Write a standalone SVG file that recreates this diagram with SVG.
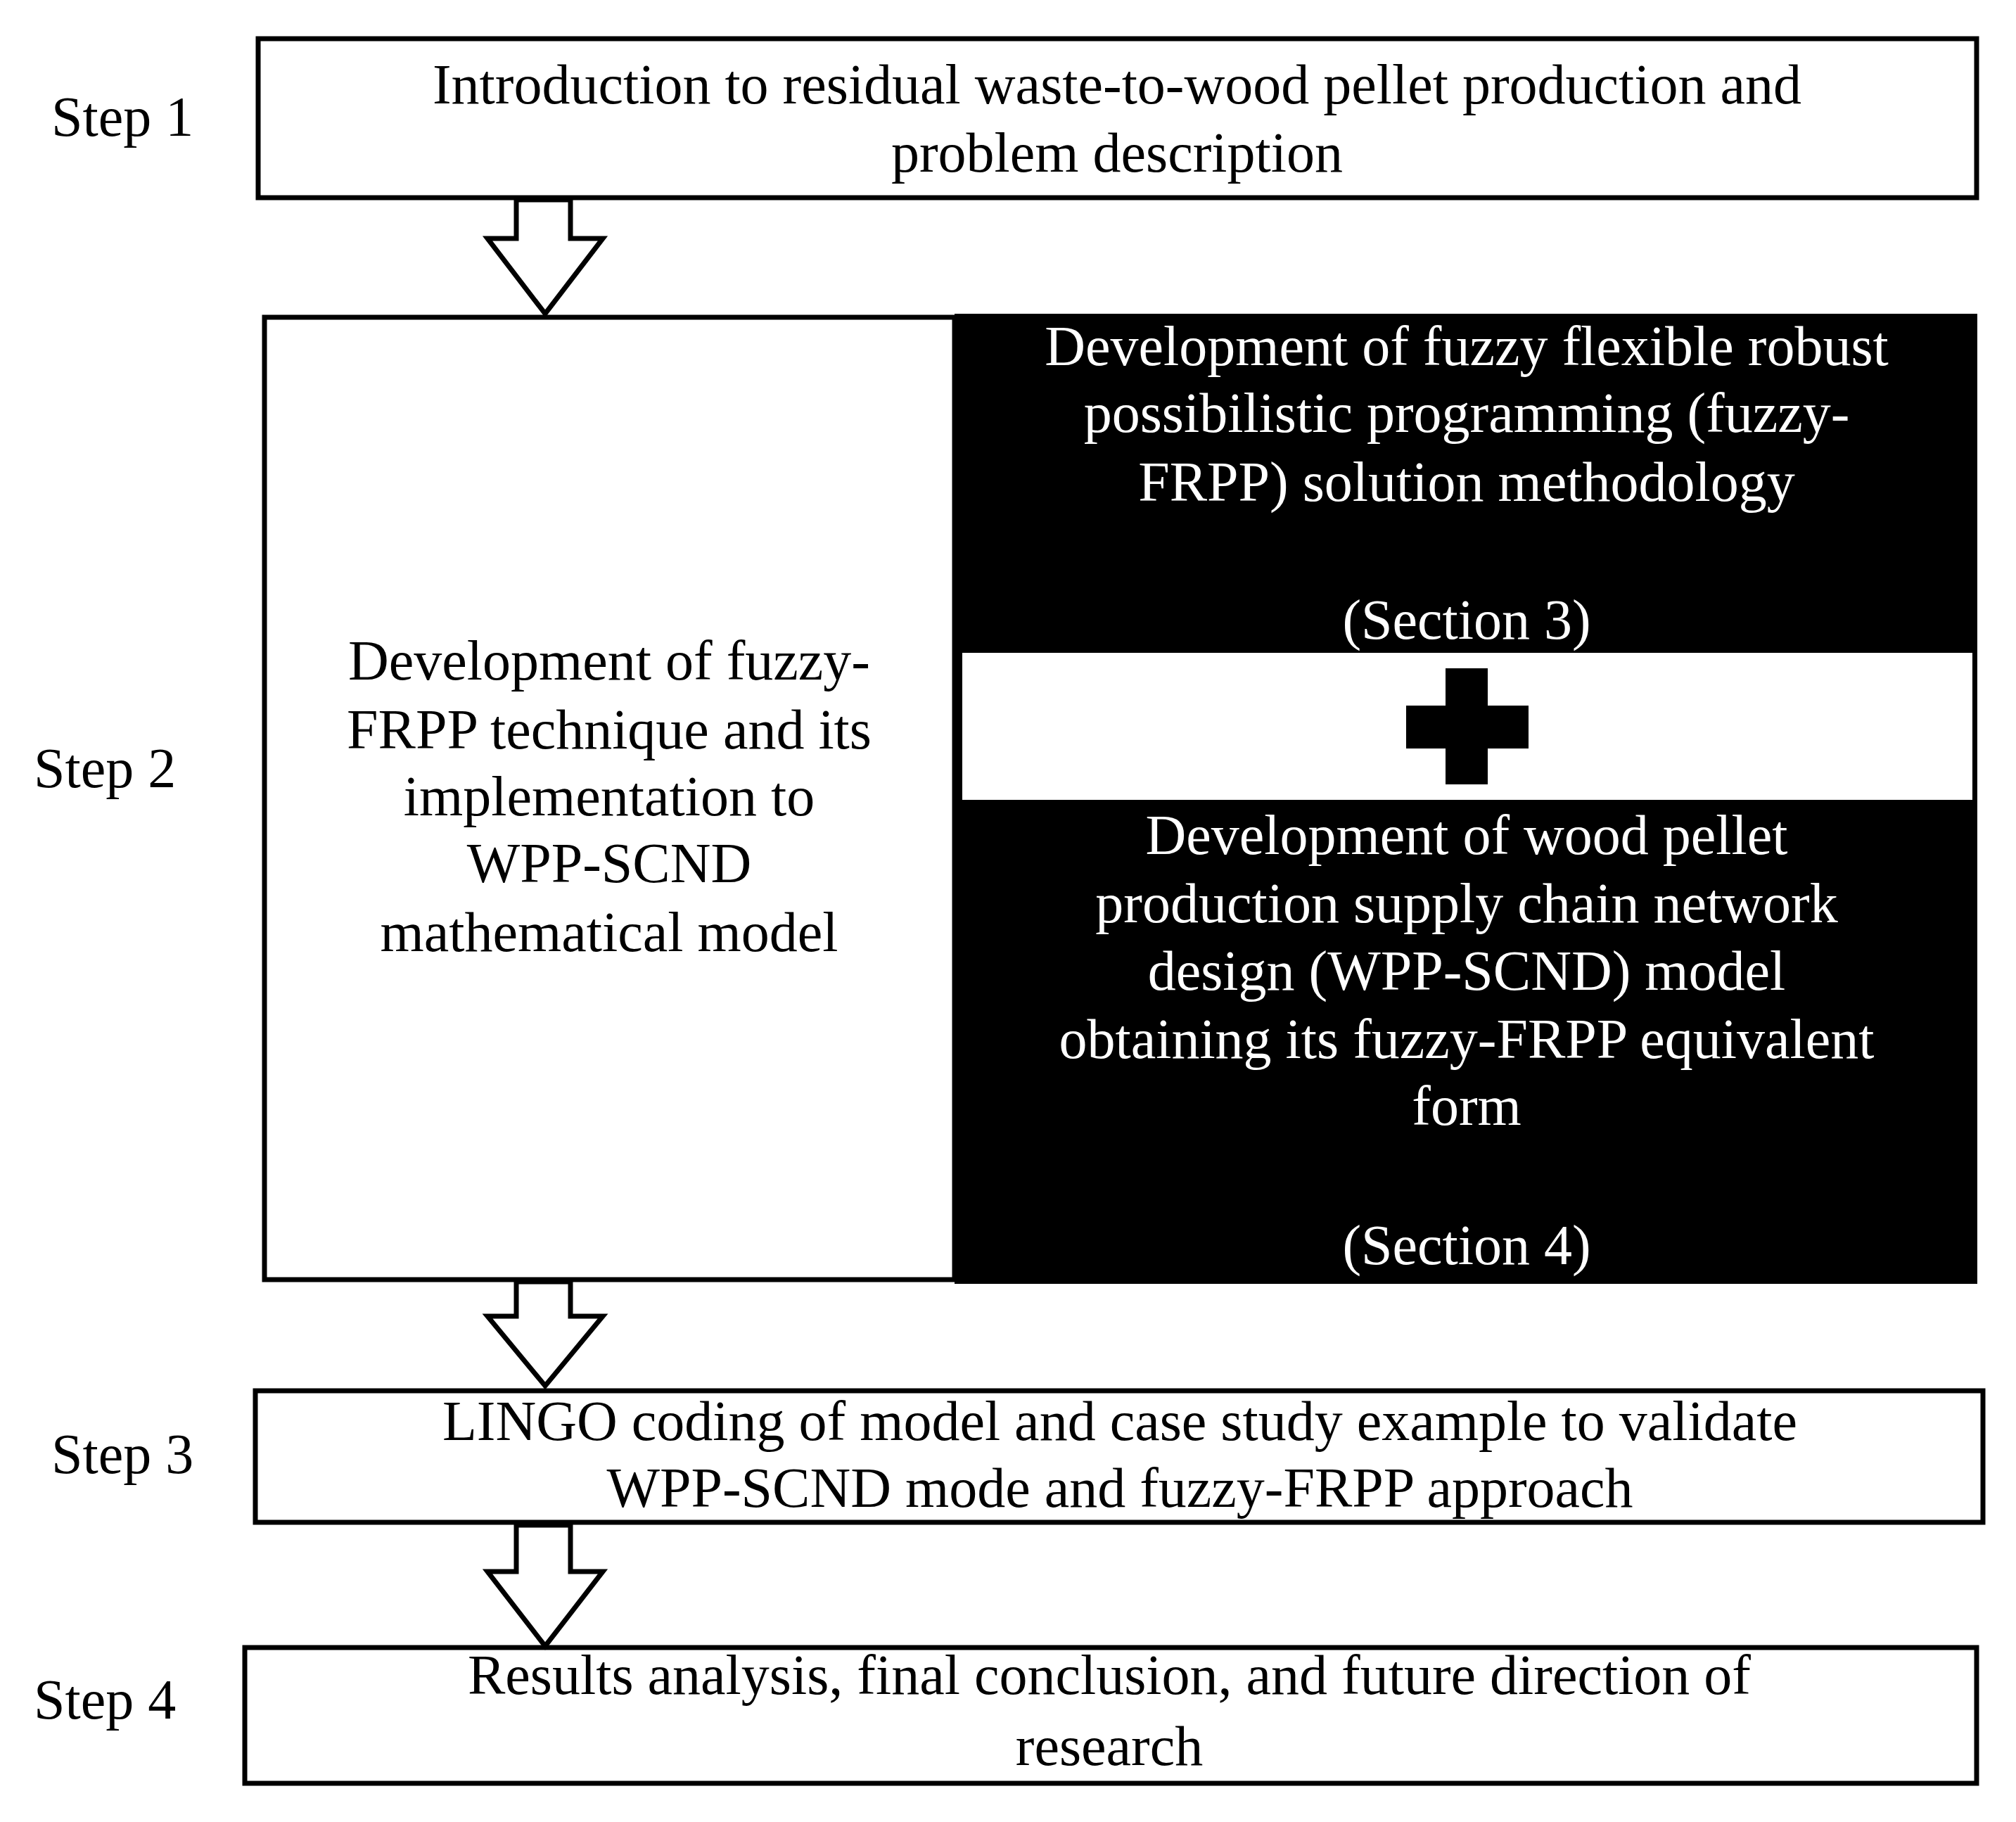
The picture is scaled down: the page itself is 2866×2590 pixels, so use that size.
<svg xmlns="http://www.w3.org/2000/svg" width="2866" height="2590" viewBox="0 0 2866 2590">
<style>
.box{fill:#fff;stroke:#000;stroke-width:7}
.t{font-family:"Liberation Serif",serif;font-size:80px;fill:#000;text-anchor:middle}
.w{fill:#fff}
.s{font-family:"Liberation Serif",serif;font-size:80px;fill:#000}
.arr{fill:#fff;stroke:#000;stroke-width:7;stroke-linejoin:miter}
</style>
<rect width="2866" height="2590" fill="#fff"/>
<g id="labels">
<text class="s" x="73" y="193">Step 1</text>
<text class="s" x="48" y="1119">Step 2</text>
<text class="s" x="73" y="2094">Step 3</text>
<text class="s" x="48" y="2443">Step 4</text>
</g>
<g id="step1">
<rect class="box" x="367" y="55" width="2443" height="226"/>
<text class="t" x="1588" y="147">Introduction to residual waste-to-wood pellet production and</text>
<text class="t" x="1588" y="244">problem description</text>
</g>
<g id="step2left">
<rect class="box" x="376" y="451" width="981" height="1368"/>
<text class="t" x="866" y="966">Development of fuzzy-</text>
<text class="t" x="866" y="1064">FRPP technique and its</text>
<text class="t" x="866" y="1159">implementation to</text>
<text class="t" x="866" y="1254">WPP-SCND</text>
<text class="t" x="866" y="1352">mathematical model</text>
</g>
<g id="step2right">
<rect x="1357" y="446" width="1454" height="1379" fill="#000"/>
<rect x="1368" y="928" width="1436" height="209" fill="#fff"/>
<rect x="2055" y="950" width="60" height="165" fill="#000"/>
<rect x="1999" y="1003" width="174" height="61" fill="#000"/>
<text class="t w" x="2085" y="519">Development of fuzzy flexible robust</text>
<text class="t w" x="2085" y="614">possibilistic programming (fuzzy-</text>
<text class="t w" x="2085" y="712">FRPP) solution methodology</text>
<text class="t w" x="2085" y="908">(Section 3)</text>
<text class="t w" x="2085" y="1214">Development of wood pellet</text>
<text class="t w" x="2085" y="1311">production supply chain network</text>
<text class="t w" x="2085" y="1407">design (WPP-SCND) model</text>
<text class="t w" x="2085" y="1504">obtaining its fuzzy-FRPP equivalent</text>
<text class="t w" x="2085" y="1599">form</text>
<text class="t w" x="2085" y="1797">(Section 4)</text>
</g>
<g id="step3">
<rect class="box" x="363" y="1977" width="2456" height="187"/>
<text class="t" x="1592" y="2047">LINGO coding of model and case study example to validate</text>
<text class="t" x="1592" y="2142">WPP-SCND mode and fuzzy-FRPP approach</text>
</g>
<g id="step4">
<rect class="box" x="348" y="2342" width="2462" height="193"/>
<text class="t" x="1577" y="2408">Results analysis, final conclusion, and future direction of</text>
<text class="t" x="1577" y="2509">research</text>
</g>
<g id="connectors">
<polygon class="arr" points="734,284 811,284 811,339 857,339 775,446 693,339 734,339"/>
<polygon class="arr" points="734,1822 811,1822 811,1871 857,1871 775,1970 693,1871 734,1871"/>
<polygon class="arr" points="734,2168 811,2168 811,2234 857,2234 775,2340 693,2234 734,2234"/>
</g>
</svg>
